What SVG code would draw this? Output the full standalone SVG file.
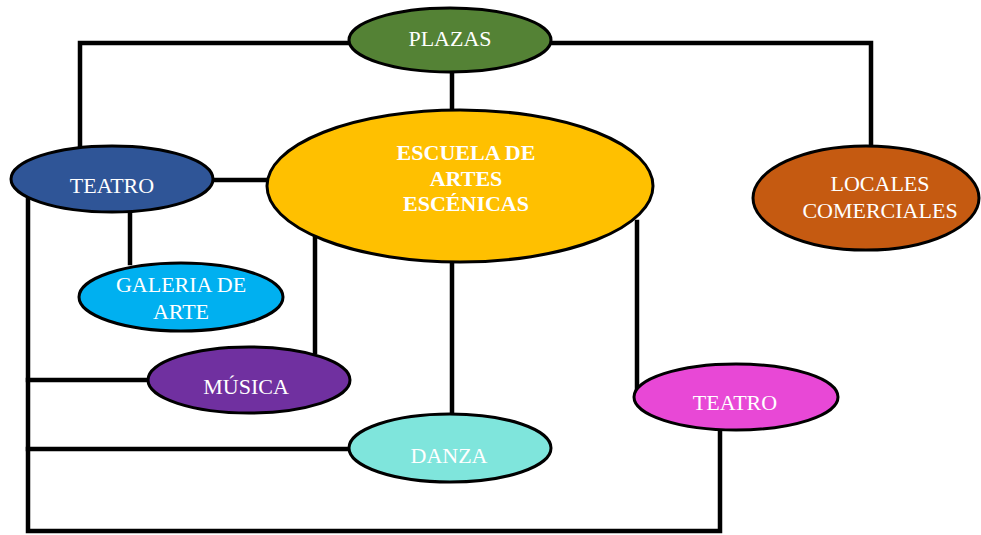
<svg xmlns="http://www.w3.org/2000/svg" width="981" height="535" viewBox="0 0 981 535">
<style>
.n{stroke:#000;stroke-width:3}
.c{fill:none;stroke:#000;stroke-width:4.5;stroke-linejoin:miter;stroke-linecap:square}
text{font-family:"Liberation Serif","Times New Roman",serif;font-size:22px;fill:#fff;text-anchor:middle}
.b{font-weight:bold}
</style>
<rect width="981" height="535" fill="#fff"/>
<g id="connectors">
<polyline class="c" points="80,145 80,43 350,43"/>
<polyline class="c" points="550,43 871,43 871,146"/>
<line class="c" x1="452" y1="73" x2="452" y2="111"/>
<line class="c" x1="212" y1="180" x2="267" y2="180"/>
<line class="c" x1="130" y1="211" x2="130" y2="263"/>
<polyline class="c" points="28,200 28,531 720,531 720,430"/>
<polyline class="c" points="315,238 315,352"/>
<line class="c" x1="28" y1="380" x2="149" y2="380"/>
<line class="c" x1="452" y1="262" x2="452" y2="414"/>
<line class="c" x1="28" y1="449" x2="350" y2="449"/>
<line class="c" x1="637" y1="222" x2="637" y2="395"/>
</g>
<g id="plazas"><ellipse class="n" cx="450" cy="40" rx="101" ry="32" fill="#548235"/><text x="450" y="41" dominant-baseline="middle">PLAZAS</text></g>
<g id="escuela"><ellipse class="n" cx="460" cy="186" rx="193" ry="76" fill="#FFC000"/>
<text class="b" x="466" y="160">ESCUELA DE</text><text class="b" x="466" y="186">ARTES</text><text class="b" x="466" y="211">ESCÉNICAS</text></g>
<g id="teatro1"><ellipse class="n" cx="112" cy="179" rx="101" ry="33" fill="#2F5597"/><text x="112" y="193">TEATRO</text></g>
<g id="locales"><ellipse class="n" cx="866" cy="198" rx="113" ry="52" fill="#C55A11"/><text x="880" y="191">LOCALES</text><text x="880" y="218">COMERCIALES</text></g>
<g id="galeria"><ellipse class="n" cx="181" cy="297" rx="102" ry="34" fill="#00B0F0"/><text x="181" y="292">GALERIA DE</text><text x="181" y="319">ARTE</text></g>
<g id="musica"><ellipse class="n" cx="249" cy="380" rx="101" ry="33" fill="#7030A0"/><text x="246" y="394">MÚSICA</text></g>
<g id="danza"><ellipse class="n" cx="450" cy="448" rx="101" ry="34" fill="#7FE5DC"/><text x="449" y="463">DANZA</text></g>
<g id="teatro2"><ellipse class="n" cx="736" cy="397" rx="102" ry="33" fill="#E848D6"/><text x="735" y="410">TEATRO</text></g>
</svg>
